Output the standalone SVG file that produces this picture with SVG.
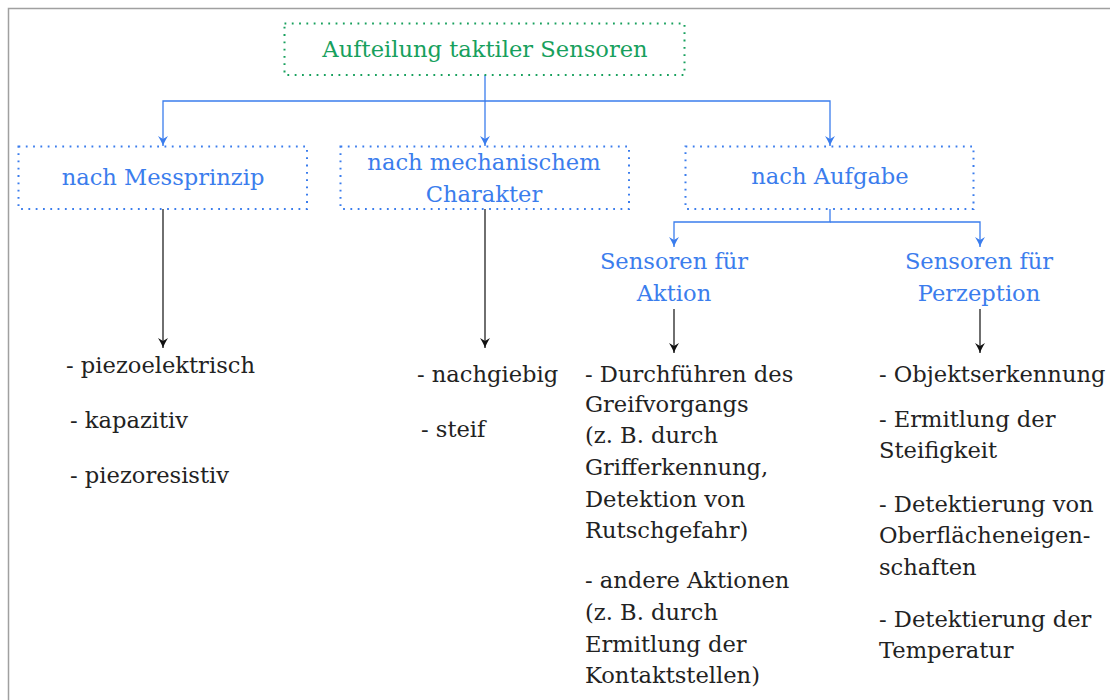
<svg xmlns="http://www.w3.org/2000/svg" width="1110" height="700" viewBox="0 0 1110 700">
  <style>
    text { font-family: "DejaVu Serif", "Liberation Serif", serif; font-size: 22.6px; }
    .green { fill: #17a05d; }
    .blue { fill: #3b7ded; }
    .body { fill: #222222; }
    .mid { text-anchor: middle; }
    .box-green { fill: none; stroke: #17a05d; stroke-width: 2; stroke-dasharray: 1.8 5.5; }
    .box-blue { fill: none; stroke: #3b7ded; stroke-width: 2; stroke-dasharray: 1.8 5.5; }
    .link-blue { fill: none; stroke: #3b7ded; stroke-width: 1.3; }
    .link-black { fill: none; stroke: #222222; stroke-width: 1.3; }
  </style>
  <defs>
    <marker id="head-blue" markerUnits="userSpaceOnUse" markerWidth="14" markerHeight="14" viewBox="-12 -7 14 14" refX="0" refY="0" orient="auto">
      <path d="M0,0 C-3,-1 -7,-3 -10,-5 L-7,0 L-10,5 C-7,3 -3,1 0,0 Z" fill="#3b7ded"/>
    </marker>
    <marker id="head-black" markerUnits="userSpaceOnUse" markerWidth="14" markerHeight="14" viewBox="-12 -7 14 14" refX="0" refY="0" orient="auto">
      <path d="M0,0 C-3,-1 -7,-3 -10,-5 L-7,0 L-10,5 C-7,3 -3,1 0,0 Z" fill="#111111"/>
    </marker>
  </defs>

  <rect width="1110" height="700" fill="#ffffff"/>
  <!-- outer frame (left and top edges) -->
  <path d="M8.5,700 V8.5 H1110" fill="none" stroke="#a0a0a0" stroke-width="1.5"/>

  <!-- connectors -->
  <g id="connectors">
    <path class="link-blue" d="M485,75 V101 H163 V146" marker-end="url(#head-blue)"/>
    <path class="link-blue" d="M485,101 V146" marker-end="url(#head-blue)"/>
    <path class="link-blue" d="M485,101 H830 V146" marker-end="url(#head-blue)"/>
    <path class="link-blue" d="M830,209 V222 H674 V247" marker-end="url(#head-blue)"/>
    <path class="link-blue" d="M830,222 H980 V247" marker-end="url(#head-blue)"/>
    <path class="link-black" d="M163,209 V348" marker-end="url(#head-black)"/>
    <path class="link-black" d="M485,209 V348" marker-end="url(#head-black)"/>
    <path class="link-black" d="M674,309 V353" marker-end="url(#head-black)"/>
    <path class="link-black" d="M980,309 V353" marker-end="url(#head-black)"/>
  </g>

  <!-- root -->
  <g id="root">
    <rect class="box-green" x="284.5" y="23.5" width="400" height="51.5"/>
    <text class="green mid" x="485" y="57">Aufteilung taktiler Sensoren</text>
  </g>

  <!-- second level -->
  <g id="messprinzip">
    <rect class="box-blue" x="18.5" y="146.5" width="288.5" height="62.5"/>
    <text class="blue mid" x="163" y="185">nach Messprinzip</text>
  </g>
  <g id="mechanisch">
    <rect class="box-blue" x="340.5" y="146.5" width="288.5" height="62.5"/>
    <text class="blue mid" x="484" y="170">nach mechanischem</text>
    <text class="blue mid" x="484" y="202">Charakter</text>
  </g>
  <g id="aufgabe">
    <rect class="box-blue" x="685.5" y="146.5" width="288" height="62.5"/>
    <text class="blue mid" x="830" y="184">nach Aufgabe</text>
  </g>

  <!-- third level -->
  <g id="aktion">
    <text class="blue mid" x="674" y="269">Sensoren für</text>
    <text class="blue mid" x="674" y="301">Aktion</text>
  </g>
  <g id="perzeption">
    <text class="blue mid" x="979" y="269">Sensoren für</text>
    <text class="blue mid" x="979" y="301">Perzeption</text>
  </g>

  <!-- leaf lists -->
  <g id="list-messprinzip">
    <text class="body" x="66" y="373">- piezoelektrisch</text>
    <text class="body" x="70" y="428">- kapazitiv</text>
    <text class="body" x="70" y="483">- piezoresistiv</text>
  </g>
  <g id="list-mechanisch">
    <text class="body" x="417" y="382">- nachgiebig</text>
    <text class="body" x="421" y="437">- steif</text>
  </g>
  <g id="list-aktion">
    <text class="body" x="585" y="382">- Durchführen des</text>
    <text class="body" x="585" y="412">Greifvorgangs</text>
    <text class="body" x="585" y="443">(z. B. durch</text>
    <text class="body" x="585" y="475">Grifferkennung,</text>
    <text class="body" x="585" y="507">Detektion von</text>
    <text class="body" x="585" y="538">Rutschgefahr)</text>
    <text class="body" x="585" y="588">- andere Aktionen</text>
    <text class="body" x="585" y="620">(z. B. durch</text>
    <text class="body" x="585" y="652">Ermitlung der</text>
    <text class="body" x="585" y="683">Kontaktstellen)</text>
  </g>
  <g id="list-perzeption">
    <text class="body" x="879" y="382">- Objektserkennung</text>
    <text class="body" x="879" y="427">- Ermitlung der</text>
    <text class="body" x="879" y="458">Steifigkeit</text>
    <text class="body" x="879" y="512">- Detektierung von</text>
    <text class="body" x="879" y="543">Oberflächeneigen-</text>
    <text class="body" x="879" y="575">schaften</text>
    <text class="body" x="879" y="627">- Detektierung der</text>
    <text class="body" x="879" y="658">Temperatur</text>
  </g>
</svg>
